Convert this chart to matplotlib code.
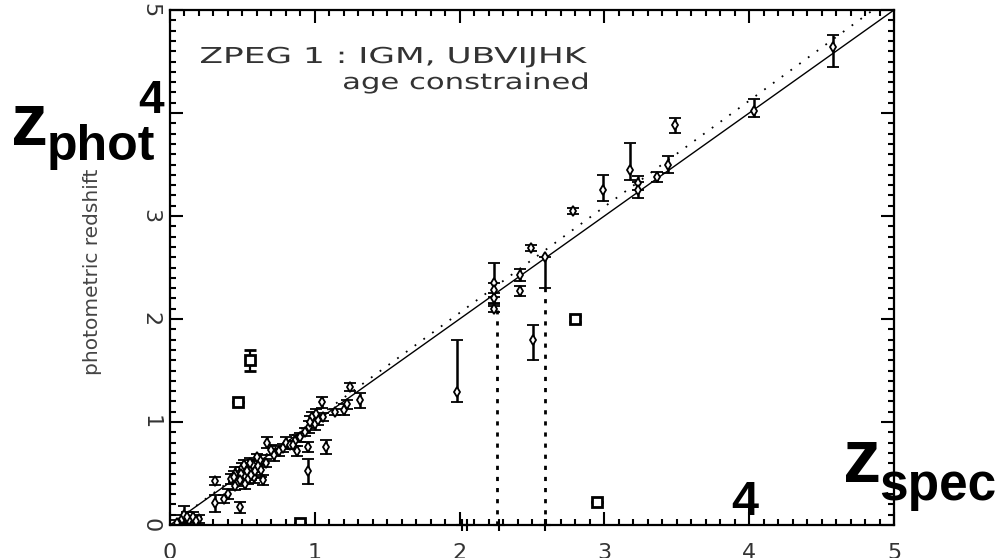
import matplotlib
matplotlib.use("Agg")
import matplotlib.pyplot as plt
from matplotlib.textpath import TextPath
from matplotlib.patches import PathPatch
from matplotlib.font_manager import FontProperties
from matplotlib.transforms import Affine2D
import numpy as np

# ---------------- data ----------------
zspec = [0.05, 0.08, 0.10, 0.13, 0.16, 0.20, 0.31, 0.31, 0.40, 0.37,
         0.48, 0.42, 0.45, 0.47, 0.50, 0.52, 0.54, 0.55, 0.57, 0.58,
         0.60, 0.62, 0.60, 0.64, 0.66, 0.67, 0.72, 0.75, 0.78, 0.80,
         0.83, 0.86, 0.88, 0.90, 0.93, 0.95, 0.96, 0.98, 1.00, 1.02,
         1.06, 1.05, 1.08, 1.14, 1.20, 1.22, 1.24, 1.31, 0.52, 0.45,
         0.95, 0.44, 0.49, 0.51, 0.53, 0.56, 0.59, 0.61, 0.63, 0.48,
         0.55, 0.12, 0.18, 0.70, 0.85, 0.97, 1.01,
         1.98, 2.24, 2.24, 2.24, 2.24, 2.42, 2.42, 2.49, 2.51, 2.59,
         2.78, 2.99, 3.18, 3.23, 3.23, 3.36, 3.44, 3.49, 4.03, 4.58]
zphot = [0.02, 0.06, 0.10, 0.05, 0.08, 0.06, 0.21, 0.43, 0.30, 0.25,
         0.17, 0.45, 0.50, 0.42, 0.55, 0.48, 0.45, 0.52, 0.58, 0.47,
         0.55, 0.63, 0.66, 0.44, 0.60, 0.80, 0.68, 0.72, 0.75, 0.80,
         0.78, 0.82, 0.72, 0.85, 0.90, 0.52, 0.95, 1.05, 0.98, 1.02,
         1.05, 1.19, 0.76, 1.10, 1.12, 1.17, 1.34, 1.21, 0.40, 0.38,
         0.76, 0.47, 0.50, 0.58, 0.52, 0.49, 0.52, 0.57, 0.53, 0.44,
         0.60, 0.08, 0.04, 0.73, 0.78, 1.00, 1.08,
         1.29, 2.35, 2.28, 2.20, 2.10, 2.43, 2.27, 2.69, 1.80, 2.60,
         3.05, 3.25, 3.45, 3.32, 3.25, 3.38, 3.50, 3.88, 4.02, 4.64]
err_lo = [0.03, 0.04, 0.08, 0.04, 0.05, 0.04, 0.08, 0.04, 0.05, 0.04,
          0.05, 0.05, 0.06, 0.04, 0.05, 0.06, 0.05, 0.04, 0.05, 0.06,
          0.04, 0.05, 0.03, 0.05, 0.04, 0.05, 0.06, 0.05, 0.04, 0.05,
          0.04, 0.05, 0.05, 0.04, 0.04, 0.12, 0.06, 0.05, 0.06, 0.05,
          0.04, 0.05, 0.07, 0.03, 0.05, 0.04, 0.04, 0.07, 0.05, 0.04,
          0.05, 0.05, 0.06, 0.05, 0.07, 0.05, 0.06, 0.05, 0.06, 0.04,
          0.05, 0.05, 0.04, 0.05, 0.04, 0.06, 0.05,
          0.10, 0.19, 0.07, 0.05, 0.03, 0.06, 0.05, 0.03, 0.20, 0.30,
          0.03, 0.10, 0.10, 0.07, 0.08, 0.05, 0.08, 0.07, 0.06, 0.19]
err_hi = [0.03, 0.04, 0.08, 0.04, 0.05, 0.04, 0.08, 0.04, 0.05, 0.04,
          0.05, 0.05, 0.06, 0.04, 0.05, 0.06, 0.05, 0.04, 0.05, 0.06,
          0.04, 0.05, 0.03, 0.05, 0.04, 0.05, 0.06, 0.05, 0.04, 0.05,
          0.04, 0.05, 0.05, 0.04, 0.04, 0.12, 0.06, 0.05, 0.06, 0.05,
          0.04, 0.05, 0.07, 0.03, 0.05, 0.04, 0.04, 0.07, 0.05, 0.04,
          0.05, 0.05, 0.06, 0.05, 0.07, 0.05, 0.06, 0.05, 0.06, 0.04,
          0.05, 0.05, 0.04, 0.05, 0.04, 0.06, 0.05,
          0.51, 0.19, 0.07, 0.05, 0.03, 0.06, 0.05, 0.03, 0.14, 0.00,
          0.03, 0.15, 0.26, 0.07, 0.08, 0.05, 0.08, 0.07, 0.12, 0.12]

# open-square outliers
sq_zspec = [0.47, 0.55, 0.90, 2.95, 2.80]
sq_zphot = [1.19, 1.60, 0.02, 0.22, 2.00]
sq_err = [0.00, 0.10, 0.00, 0.00, 0.03]

# objects at zphot = 0
zero_zspec = [2.02, 2.05, 2.27, 2.59]
zero_zphot = [0.0, 0.0, 0.0, 0.0]

# catastrophic links (dotted verticals)
cat_zspec = [2.26, 2.59]
cat_top = [2.09, 2.30]

xticks = [0, 1, 2, 3, 4, 5]
yticks = [0, 1, 2, 3, 4, 5]
xticklabels = ["0", "1", "2", "3", "4", "5"]
yticklabels = ["0", "1", "2", "3", "", "5"]

title1 = "ZPEG 1 : IGM, UBVIJHK"
title2 = "age constrained"

# ---------------- figure ----------------
W, H = 998, 558
fig = plt.figure(figsize=(W / 100, H / 100), dpi=100)
fig.patch.set_facecolor("white")


def fx(px):
    return px / W


def fy(py):
    return 1 - py / H


def stretched_text(s, x0, x1, baseline, cap_px, color="#333333"):
    """Draw text horizontally stretched between pixel x0..x1 (Hershey-like look)."""
    fp = FontProperties(family="DejaVu Sans")
    em = cap_px / 0.73
    tp = TextPath((0, 0), s, size=em, prop=fp)
    ext = tp.get_extents()
    sx = (x1 - x0) / ext.width
    tr = Affine2D().translate(-ext.x0, 0).scale(sx, 1.0).translate(x0, H - baseline)
    patch = PathPatch(tp, transform=tr, facecolor=color, edgecolor="none")
    fig.add_artist(patch)


ax = fig.add_axes([fx(170), fy(525), (894 - 170) / W, (525 - 10) / H])
ax.set_xlim(0, 5)
ax.set_ylim(0, 5)

line_x = np.array([0, 5])
ax.plot(line_x, line_x, color="black", lw=1.0)
ax.plot([0, 4.855], [0, 5], color="black", lw=1.3, ls=(0, (1, 5)))

ax.vlines(cat_zspec, 0, cat_top, colors="black", lw=2.0, linestyles=(0, (1.5, 2.5)))

ax.errorbar(zspec, zphot, yerr=[err_lo, err_hi], fmt="d", ms=5.5,
            mfc="white", mec="black", mew=1.3, ecolor="black",
            elinewidth=1.8, capsize=4, capthick=1.8, color="black")
ax.errorbar(sq_zspec, sq_zphot, yerr=sq_err, fmt="s", ms=7.5,
            mfc="white", mec="black", mew=2.0, ecolor="black",
            elinewidth=1.6, capsize=4, capthick=1.6)
ax.plot(zero_zspec, zero_zphot, "+", color="black", ms=8, mew=1.5, clip_on=False)

ax.set_xticks(xticks)
ax.set_yticks(yticks)
ax.set_xticklabels(xticklabels)
ax.set_yticklabels(yticklabels, rotation=-90, va="center")
ax.set_xticks(np.arange(0, 5.01, 0.1), minor=True)
ax.set_yticks(np.arange(0, 5.01, 0.1), minor=True)
ax.tick_params(which="both", direction="in", top=True, right=True,
               width=1.5, colors="black", labelcolor="#333333")
ax.tick_params(which="major", length=9.5, labelsize=16)
ax.tick_params(axis="x", which="major", pad=13)
ax.tick_params(axis="y", which="major", pad=7)
ax.tick_params(which="minor", length=4.5)
for s in ax.spines.values():
    s.set_linewidth(1.6)

# in-plot annotations (wide, thin lettering as in the original)
stretched_text(title1, 201, 587, 63, 16)
stretched_text(title2, 344, 587, 89, 16)

# y label
fig.text(fx(93), fy(272), "photometric redshift", fontsize=14.5,
         color="#444444", rotation=90, va="center", ha="center")

# bold overlays
bold = dict(family="Liberation Sans", fontweight="bold", color="black")
fig.text(fx(11), fy(145), "z", fontsize=53, va="baseline", ha="left", **bold)
fig.text(fx(47), fy(160), "phot", fontsize=36, va="baseline", ha="left", **bold)
fig.text(fx(138), fy(113), "4", fontsize=33, va="baseline", ha="left", **bold)
fig.text(fx(843), fy(482), "z", fontsize=55, va="baseline", ha="left", **bold)
fig.text(fx(879), fy(500), "spec", fontsize=37, va="baseline", ha="left", **bold)
fig.text(fx(731), fy(515), "4", fontsize=35, va="baseline", ha="left", **bold)

fig.savefig("out.png", dpi=100)
